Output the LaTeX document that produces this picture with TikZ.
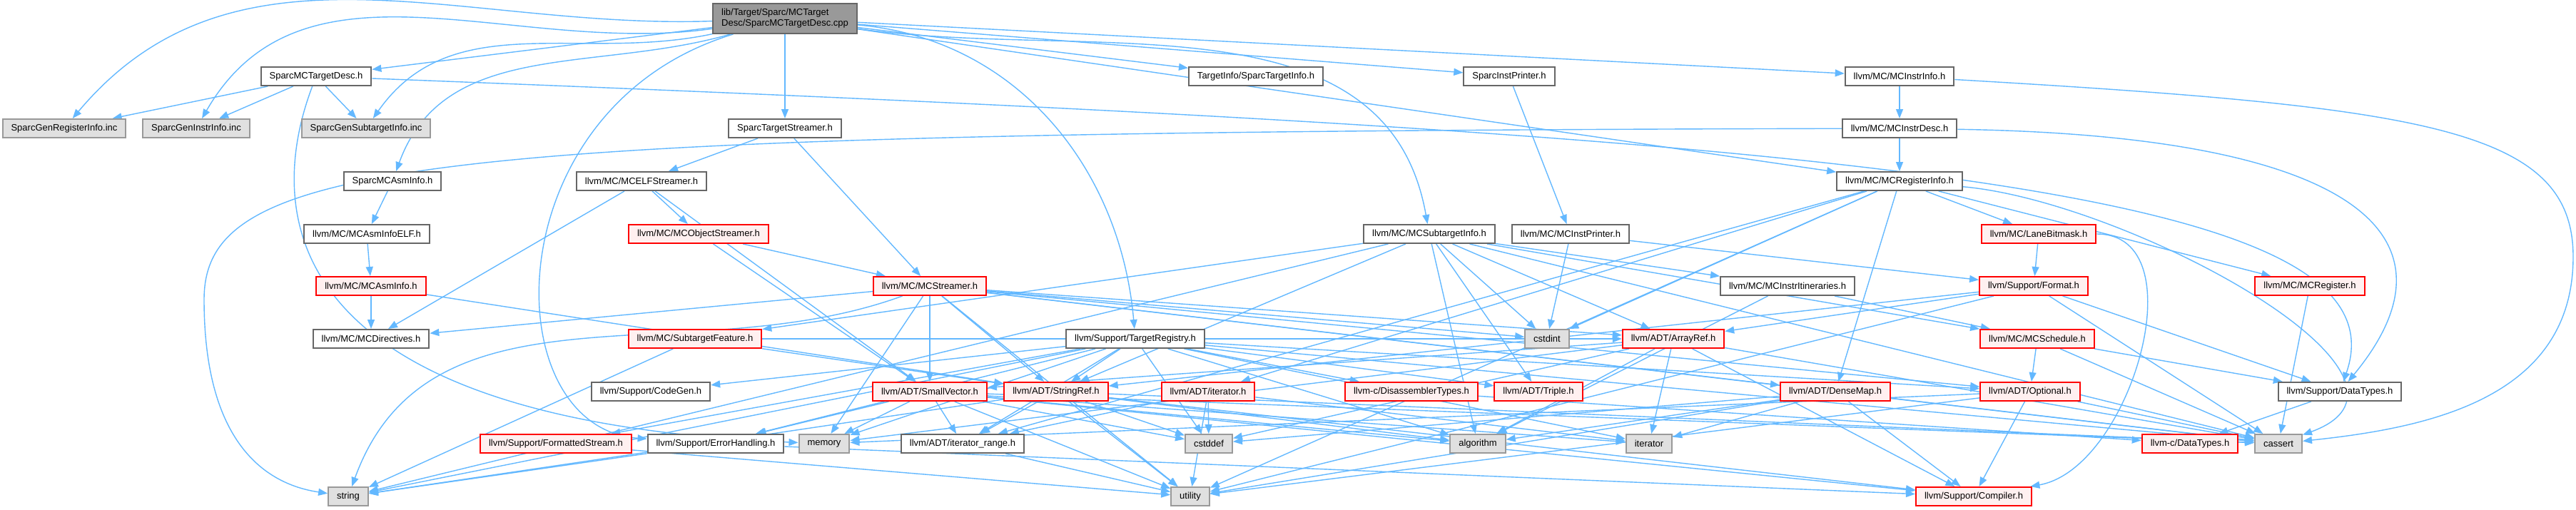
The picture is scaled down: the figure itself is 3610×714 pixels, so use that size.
\documentclass[tikz,border=0pt]{standalone}
\usepackage{fontspec}
\setmainfont{Liberation Sans}
\usetikzlibrary{arrows.meta}
\definecolor{edgeblue}{HTML}{63B8FF}
\definecolor{boxgrey}{HTML}{666666}
\definecolor{sysgrey}{HTML}{999999}
\definecolor{sysfill}{HTML}{E0E0E0}
\definecolor{cutfill}{HTML}{FFF0F0}
\definecolor{rootfill}{HTML}{999999}
\newcommand{\graphfont}{\fontsize{6.5}{7.5}\selectfont}
\pgfdeclarelayer{background}
\pgfsetlayers{background,main}
\tikzset{
  incnode/.style={draw=boxgrey, fill=white, line width=1pt, minimum height=13pt,
    inner xsep=6pt, inner ysep=1pt, font=\graphfont},
  sysnode/.style={incnode, draw=sysgrey, fill=sysfill},
  cutnode/.style={incnode, draw=red, fill=cutfill},
  rootnode/.style={incnode, fill=rootfill, align=left, minimum height=21pt},
  incarrow/.style={draw=edgeblue, line width=0.7pt, -{Triangle[length=6.5pt,width=5pt]}}
}
\begin{document}
\begin{tikzpicture}[x=0.5pt, y=-0.5pt]
    \useasboundingbox (0,0) rectangle (3610,714);
    % row 0 and 1
    \node at (1100,26) [rootnode] (root) {lib/Target/Sparc/MCTarget\\Desc/SparcMCTargetDesc.cpp};
    \node at (443,107) [incnode] (mcdesch) {SparcMCTargetDesc.h};
    \node at (1760,107) [incnode] (tinfo) {TargetInfo/SparcTargetInfo.h};
    \node at (2115,107) [incnode] (iprinter) {SparcInstPrinter.h};
    \node at (2662,107) [incnode] (instrinfo) {llvm/MC/MCInstrInfo.h};
    % row 2
    \node at (90,180) [sysnode] (genreg) {SparcGenRegisterInfo.inc};
    \node at (275,180) [sysnode] (geninstr) {SparcGenInstrInfo.inc};
    \node at (513,180) [sysnode] (gensub) {SparcGenSubtargetInfo.inc};
    \node at (1100,180) [incnode] (tstreamer) {SparcTargetStreamer.h};
    \node at (2662,180) [incnode] (instrdesc) {llvm/MC/MCInstrDesc.h};
    % row 3
    \node at (550,254) [incnode] (asminfo) {SparcMCAsmInfo.h};
    \node at (899,254) [incnode] (elfstr) {llvm/MC/MCELFStreamer.h};
    \node at (2662,254) [incnode] (reginfo) {llvm/MC/MCRegisterInfo.h};
    % row 4
    \node at (514,328) [incnode] (asmelf) {llvm/MC/MCAsmInfoELF.h};
    \node at (979,328) [cutnode] (objstr) {llvm/MC/MCObjectStreamer.h};
    \node at (2003,328) [incnode] (subtgt) {llvm/MC/MCSubtargetInfo.h};
    \node at (2201,328) [incnode] (mciprint) {llvm/MC/MCInstPrinter.h};
    \node at (2857,328) [cutnode] (lanemask) {llvm/MC/LaneBitmask.h};
    % row 5
    \node at (520,401) [cutnode] (mcasm) {llvm/MC/MCAsmInfo.h};
    \node at (1303,401) [cutnode] (mcstr) {llvm/MC/MCStreamer.h};
    \node at (2505,401) [incnode] (itin) {llvm/MC/MCInstrItineraries.h};
    \node at (2850,401) [cutnode] (format) {llvm/Support/Format.h};
    \node at (3237,401) [cutnode] (mcreg) {llvm/MC/MCRegister.h};
    % row 6
    \node at (520,475) [incnode] (direct) {llvm/MC/MCDirectives.h};
    \node at (974,475) [cutnode] (subfeat) {llvm/MC/SubtargetFeature.h};
    \node at (1591,475) [incnode] (registry) {llvm/Support/TargetRegistry.h};
    \node at (2168,475) [sysnode] (cstdint) {cstdint};
    \node at (2345,475) [cutnode] (arrayref) {llvm/ADT/ArrayRef.h};
    \node at (2855,475) [cutnode] (sched) {llvm/MC/MCSchedule.h};
    % row 7
    \node at (912,549) [incnode] (codegen) {llvm/Support/CodeGen.h};
    \node at (1303,549) [cutnode] (smallvec) {llvm/ADT/SmallVector.h};
    \node at (1480,549) [cutnode] (stringref) {llvm/ADT/StringRef.h};
    \node at (1693,549) [cutnode] (iterh) {llvm/ADT/iterator.h};
    \node at (1978,549) [cutnode] (disasm) {llvm-c/DisassemblerTypes.h};
    \node at (2156,549) [cutnode] (triple) {llvm/ADT/Triple.h};
    \node at (2572,549) [cutnode] (densemap) {llvm/ADT/DenseMap.h};
    \node at (2845,549) [cutnode] (optional) {llvm/ADT/Optional.h};
    \node at (3279,549) [incnode] (datatypes) {llvm/Support/DataTypes.h};
    % row 8
    \node at (779,622) [cutnode] (fstream) {llvm/Support/FormattedStream.h};
    \node at (1003,622) [incnode] (errh) {llvm/Support/ErrorHandling.h};
    \node at (1155,622) [sysnode] (memory) {memory};
    \node at (1349,622) [incnode] (itrange) {llvm/ADT/iterator\_range.h};
    \node at (1694,622) [sysnode] (cstddef) {cstddef};
    \node at (2071,622) [sysnode] (algo) {algorithm};
    \node at (2311,622) [sysnode] (iterator) {iterator};
    \node at (3069,622) [cutnode] (cdtypes) {llvm-c/DataTypes.h};
    \node at (3193,622) [sysnode] (cassert) {cassert};
    % row 9
    \node at (488,696) [sysnode] (string) {string};
    \node at (1668,696) [sysnode] (utility) {utility};
    \node at (2766,696) [cutnode] (compiler) {llvm/Support/Compiler.h};

    \begin{pgfonlayer}{background}
    % includes of the .cpp file
    \draw [incarrow] (root) to[out=182,in=50] (genreg);
    \draw [incarrow] (root) to[out=188,in=60] (geninstr);
    \draw [incarrow] (root) to[out=192,in=55] (gensub);
    \draw [incarrow] (root) to (mcdesch);
    \draw [incarrow] (root) to[out=196,in=70] (asminfo);
    \draw [incarrow] (root) .. controls (691,150) and (691,600) .. (errh);
    \draw [incarrow] (root) to (tstreamer);
    \draw [incarrow] (root) to (tinfo);
    \draw [incarrow] (root) to[out=-5,in=95] (registry);
    \draw [incarrow] (root) to (iprinter);
    \draw [incarrow] (root) to (instrinfo);
    \draw [incarrow] (root) to (reginfo);
    \draw [incarrow] (root) to[out=-8,in=100] (subtgt);
    % sparc headers
    \draw [incarrow] (mcdesch) to (genreg);
    \draw [incarrow] (mcdesch) to (geninstr);
    \draw [incarrow] (mcdesch) to (gensub);
    \draw [incarrow] (mcdesch) .. controls (370,300) and (390,590) .. (memory);
    \draw [incarrow] (mcdesch) .. controls (2600,190) and (3380,260) .. (datatypes);
    \draw [incarrow] (asminfo) to (asmelf);
    \draw [incarrow] (asmelf) to (mcasm);
    \draw [incarrow] (mcasm) to (direct);
    \draw [incarrow] (mcasm) to (stringref);
    \draw [incarrow] (tstreamer) to (elfstr);
    \draw [incarrow] (tstreamer) to (mcstr);
    \draw [incarrow] (elfstr) to (direct);
    \draw [incarrow] (elfstr) to (smallvec);
    \draw [incarrow] (elfstr) to (objstr);
    \draw [incarrow] (objstr) to (mcstr);
    \draw [incarrow] (objstr) to (smallvec);
    \draw [incarrow] (iprinter) to (mciprint);
    \draw [incarrow] (mciprint) to (format);
    \draw [incarrow] (mciprint) to (cstdint);
    % MC streamer
    \draw [incarrow] (mcstr) to (direct);
    \draw [incarrow] (mcstr) to[out=200,in=70] (string);
    \draw [incarrow] (mcstr) to (memory);
    \draw [incarrow] (mcstr) to (smallvec);
    \draw [incarrow] (mcstr) to (stringref);
    \draw [incarrow] (mcstr) to (cstdint);
    \draw [incarrow] (mcstr) to (arrayref);
    \draw [incarrow] (mcstr) to (densemap);
    \draw [incarrow] (mcstr) to (optional);
    \draw [incarrow] (mcstr) to (cassert);
    \draw [incarrow] (mcstr) to (utility);
    % instr info and register info
    \draw [incarrow] (instrinfo) to (instrdesc);
    \draw [incarrow] (instrinfo) .. controls (3400,150) and (3606,180) .. (3606,360)
        .. controls (3606,560) and (3400,600) .. (cassert);
    \draw [incarrow] (instrdesc) to (reginfo);
    \draw [incarrow] (instrdesc) .. controls (3300,190) and (3460,330) .. (datatypes);
    \draw [incarrow] (instrdesc) .. controls (600,185) and (286,220) .. (286,420)
        .. controls (286,630) and (380,680) .. (string);
    \draw [incarrow] (reginfo) to (densemap);
    \draw [incarrow] (reginfo) to (iterh);
    \draw [incarrow] (reginfo) to (itrange);
    \draw [incarrow] (reginfo) to (lanemask);
    \draw [incarrow] (reginfo) to (mcreg);
    \draw [incarrow] (reginfo) to[out=-5,in=20] (cassert);
    \draw [incarrow] (reginfo) to (cstdint);
    \draw [incarrow] (reginfo) to (utility);
    \draw [incarrow] (lanemask) to (format);
    \draw [incarrow] (lanemask) to[out=0,in=10] (compiler);
    \draw [incarrow] (mcreg) to (cassert);
    \draw [incarrow] (format) to (arrayref);
    \draw [incarrow] (format) to (stringref);
    \draw [incarrow] (format) to (datatypes);
    \draw [incarrow] (format) to (cassert);
    \draw [incarrow] (format) to (utility);
    % subtarget info
    \draw [incarrow] (subtgt) to (arrayref);
    \draw [incarrow] (subtgt) to (stringref);
    \draw [incarrow] (subtgt) to (triple);
    \draw [incarrow] (subtgt) to (itin);
    \draw [incarrow] (subtgt) to (sched);
    \draw [incarrow] (subtgt) to (subfeat);
    \draw [incarrow] (subtgt) to (algo);
    \draw [incarrow] (subtgt) to (cassert);
    \draw [incarrow] (subtgt) to (cstdint);
    \draw [incarrow] (subtgt) to (string);
    \draw [incarrow] (itin) to (sched);
    \draw [incarrow] (itin) to (algo);
    \draw [incarrow] (sched) to (optional);
    \draw [incarrow] (sched) to (datatypes);
    \draw [incarrow] (sched) to (cassert);
    \draw [incarrow] (subfeat) to (arrayref);
    \draw [incarrow] (subfeat) to (stringref);
    \draw [incarrow] (subfeat) to (string);
    % target registry
    \draw [incarrow] (registry) to (disasm);
    \draw [incarrow] (registry) to (optional);
    \draw [incarrow] (registry) to (stringref);
    \draw [incarrow] (registry) to (triple);
    \draw [incarrow] (registry) to (itrange);
    \draw [incarrow] (registry) to (codegen);
    \draw [incarrow] (registry) to (errh);
    \draw [incarrow] (registry) to (fstream);
    \draw [incarrow] (registry) to (algo);
    \draw [incarrow] (registry) to (cassert);
    \draw [incarrow] (registry) to (cstddef);
    \draw [incarrow] (registry) to (iterator);
    \draw [incarrow] (registry) to (memory);
    \draw [incarrow] (registry) to (string);
    % ADT headers
    \draw [incarrow] (arrayref) to (smallvec);
    \draw [incarrow] (arrayref) to (compiler);
    \draw [incarrow] (arrayref) to (algo);
    \draw [incarrow] (arrayref) to (cassert);
    \draw [incarrow] (arrayref) to (cstddef);
    \draw [incarrow] (arrayref) to (iterator);
    \draw [incarrow] (arrayref) to (memory);
    \draw [incarrow] (densemap) to (compiler);
    \draw [incarrow] (densemap) to (algo);
    \draw [incarrow] (densemap) to (cassert);
    \draw [incarrow] (densemap) to (cstddef);
    \draw [incarrow] (densemap) to (iterator);
    \draw [incarrow] (densemap) to (utility);
    \draw [incarrow] (optional) to (compiler);
    \draw [incarrow] (optional) to (cassert);
    \draw [incarrow] (optional) to (memory);
    \draw [incarrow] (optional) to (utility);
    \draw [incarrow] (stringref) to (itrange);
    \draw [incarrow] (stringref) to (compiler);
    \draw [incarrow] (stringref) to (algo);
    \draw [incarrow] (stringref) to (cassert);
    \draw [incarrow] (stringref) to (cstddef);
    \draw [incarrow] (stringref) to (string);
    \draw [incarrow] (stringref) to (utility);
    \draw [incarrow] (smallvec) to (itrange);
    \draw [incarrow] (smallvec) to (compiler);
    \draw [incarrow] (smallvec) to (errh);
    \draw [incarrow] (smallvec) to (algo);
    \draw [incarrow] (smallvec) to (cassert);
    \draw [incarrow] (smallvec) to (cstddef);
    \draw [incarrow] (smallvec) to (iterator);
    \draw [incarrow] (smallvec) to (memory);
    \draw [incarrow] (smallvec) to (utility);
    \draw [incarrow] (iterh) to (itrange);
    \draw [incarrow] (iterh) to (cstddef);
    \draw [incarrow] (iterh) to (iterator);
    \draw [incarrow] (iterh) to (utility);
    \draw [incarrow] (itrange) to (utility);
    \draw [incarrow] (disasm) to (cdtypes);
    \draw [incarrow] (datatypes) to (cdtypes);
    \draw [incarrow] (fstream) to (utility);
    \draw [incarrow] (errh) to (compiler);
    \draw [incarrow] (errh) to (string);
    \end{pgfonlayer}
\end{tikzpicture}
\end{document}
